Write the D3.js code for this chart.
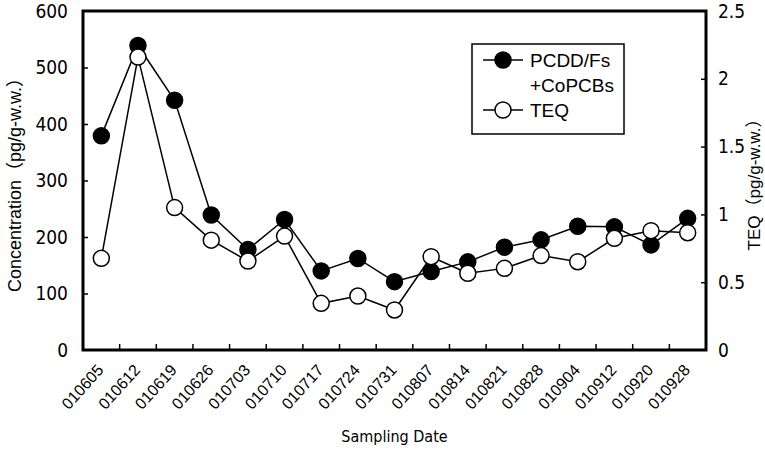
<!DOCTYPE html>
<html>
<head>
<meta charset="utf-8">
<script src="https://cdn.jsdelivr.net/npm/d3@7"></script>
<style>
    body { margin: 0; background: #fff; }
    svg { display: block; }
    text { fill: #000; }
</style>
</head>
<body>
<svg id="chart" width="765" height="449"></svg>
<script>
// Sampling dates (categories).
const dates = ["010605", "010612", "010619", "010626", "010703", "010710", "010717",
    "010724", "010731", "010807", "010814", "010821", "010828", "010904",
    "010912", "010920", "010928"];

// PCDD/Fs + CoPCBs concentration, pg/g-w.w. (left axis).
const concValues = [379, 539, 442, 239, 178, 231, 140, 162, 121, 139, 156, 182, 195,
    219, 218, 186, 233];

// TEQ, pg/g-w.w. (right axis).
const teqValues = [0.676, 2.16, 1.05, 0.81, 0.656, 0.84, 0.344, 0.398, 0.295, 0.688,
    0.566, 0.602, 0.696, 0.651, 0.824, 0.88, 0.865];

const leftTicks = [0, 100, 200, 300, 400, 500, 600];
const rightTicks = [0, 0.5, 1, 1.5, 2, 2.5];

// Layout.
let margin = { top: 11, right: 59, bottom: 99, left: 83 };
let width = 765 - margin.left - margin.right;
let height = 449 - margin.top - margin.bottom;
let markerR = 8;
let mainFont = "'Liberation Sans', Arial, 'Noto Sans CJK JP', sans-serif";
let narrowFont = "'Liberation Sans Narrow', 'DejaVu Sans Condensed', 'Liberation Sans', sans-serif";

let svg = d3.select("#chart");
let g = svg.append("g")
    .attr("transform", `translate(${margin.left},${margin.top})`);

// Scales.
let x = d3.scaleBand()
    .domain(dates)
    .range([0, width]);

let yLeft = d3.scaleLinear()
    .domain([0, 600])
    .range([height, 0]);

let yRight = d3.scaleLinear()
    .domain([0, 2.5])
    .range([height, 0]);

let cx = function(d, i) {
    return x(dates[i]) + x.bandwidth() / 2;
};

// Left axis: ticks pointing inward.
let leftAxis = g.append("g")
    .call(d3.axisLeft(yLeft).tickValues(leftTicks).tickSizeInner(-5).tickSizeOuter(0).tickPadding(15));
leftAxis.select(".domain").remove();
leftAxis.selectAll("line").attr("stroke-width", 1.5);
leftAxis.selectAll("text")
    .style("font-family", narrowFont)
    .style("font-size", "19px");
leftAxis.selectAll(".tick")
    .filter(function(d) { return d === 0 || d === 600; })
    .select("line").remove();

// Right axis: ticks pointing inward.
let rightAxis = g.append("g")
    .attr("transform", `translate(${width},0)`)
    .call(d3.axisRight(yRight).tickValues(rightTicks).tickFormat(d3.format("")).tickSizeInner(-5).tickSizeOuter(0).tickPadding(12));
rightAxis.select(".domain").remove();
rightAxis.selectAll("line").attr("stroke-width", 1.5);
rightAxis.selectAll("text")
    .style("font-family", narrowFont)
    .style("font-size", "19px");
rightAxis.selectAll(".tick")
    .filter(function(d) { return d === 0 || d === 2.5; })
    .select("line").remove();

// Bottom axis: ticks between categories, pointing up.
let boundaries = dates.slice(1).map(function(d) { return x(d); });
g.append("g")
    .selectAll("line")
    .data(boundaries)
    .enter()
    .append("line")
    .attr("x1", function(d) { return d; })
    .attr("x2", function(d) { return d; })
    .attr("y1", height)
    .attr("y2", height - 6)
    .attr("stroke", "#000")
    .attr("stroke-width", 1.5);

// Rotated date labels.
g.append("g")
    .selectAll("text")
    .data(dates)
    .enter()
    .append("text")
    .attr("transform", function(d) {
        let px = x(d) + x.bandwidth() / 2 - 1;
        return `translate(${px},${height + 17}) rotate(-48)`;
    })
    .attr("text-anchor", "end")
    .attr("dy", "0.35em")
    .style("font-family", mainFont)
    .style("font-size", "16px")
    .text(function(d) { return d; });

// Plot frame.
g.append("rect")
    .attr("x", 0)
    .attr("y", 0)
    .attr("width", width)
    .attr("height", height)
    .attr("fill", "none")
    .attr("stroke", "#000")
    .attr("stroke-width", 3);

// Lines.
let concLine = d3.line()
    .x(cx)
    .y(function(d) { return yLeft(d); });

let teqLine = d3.line()
    .x(cx)
    .y(function(d) { return yRight(d); });

g.append("path")
    .datum(concValues)
    .attr("d", concLine)
    .attr("fill", "none")
    .attr("stroke", "#000")
    .attr("stroke-width", 1.5);

g.append("path")
    .datum(teqValues)
    .attr("d", teqLine)
    .attr("fill", "none")
    .attr("stroke", "#000")
    .attr("stroke-width", 1.5);

// Markers.
g.append("g")
    .selectAll("circle")
    .data(concValues)
    .enter()
    .append("circle")
    .attr("cx", cx)
    .attr("cy", function(d) { return yLeft(d); })
    .attr("r", markerR)
    .attr("fill", "#000")
    .attr("stroke", "#000")
    .attr("stroke-width", 1.5);

g.append("g")
    .selectAll("circle")
    .data(teqValues)
    .enter()
    .append("circle")
    .attr("cx", cx)
    .attr("cy", function(d) { return yRight(d); })
    .attr("r", markerR)
    .attr("fill", "#fff")
    .attr("stroke", "#000")
    .attr("stroke-width", 1.5);

// Axis titles.
svg.append("text")
    .attr("transform", `translate(21,${margin.top + height / 2}) rotate(-90)`)
    .attr("text-anchor", "middle")
    .style("font-family", mainFont)
    .style("font-size", "18px")
    .text("Concentration（pg/g-w.w.）");

svg.append("text")
    .attr("transform", `translate(760,${margin.top + height / 2}) rotate(-90)`)
    .attr("text-anchor", "middle")
    .style("font-family", mainFont)
    .style("font-size", "17px")
    .text("TEQ（pg/g-w.w.）");

svg.append("text")
    .attr("x", margin.left + width / 2)
    .attr("y", 442)
    .attr("text-anchor", "middle")
    .style("font-family", narrowFont)
    .style("font-size", "16px")
    .text("Sampling Date");

// Legend.
let legend = svg.append("g")
    .attr("transform", "translate(472,44)");

legend.append("rect")
    .attr("width", 152)
    .attr("height", 90)
    .attr("fill", "#fff")
    .attr("stroke", "#000")
    .attr("stroke-width", 1.5);

let legendItems = [
    { y: 16, fill: "#000", lines: ["PCDD/Fs", "+CoPCBs"] },
    { y: 66, fill: "#fff", lines: ["TEQ"] }
];

legendItems.forEach(function(item) {
    legend.append("line")
        .attr("x1", 11)
        .attr("x2", 51)
        .attr("y1", item.y)
        .attr("y2", item.y)
        .attr("stroke", "#000")
        .attr("stroke-width", 1.5);
    legend.append("circle")
        .attr("cx", 31)
        .attr("cy", item.y)
        .attr("r", markerR)
        .attr("fill", item.fill)
        .attr("stroke", "#000")
        .attr("stroke-width", 1.5);
    item.lines.forEach(function(t, k) {
        legend.append("text")
            .attr("x", 58)
            .attr("y", item.y + k * 25)
            .attr("dy", "0.35em")
            .style("font-family", mainFont)
            .style("font-size", "19px")
            .text(t);
    });
});
</script>
</body>
</html>
